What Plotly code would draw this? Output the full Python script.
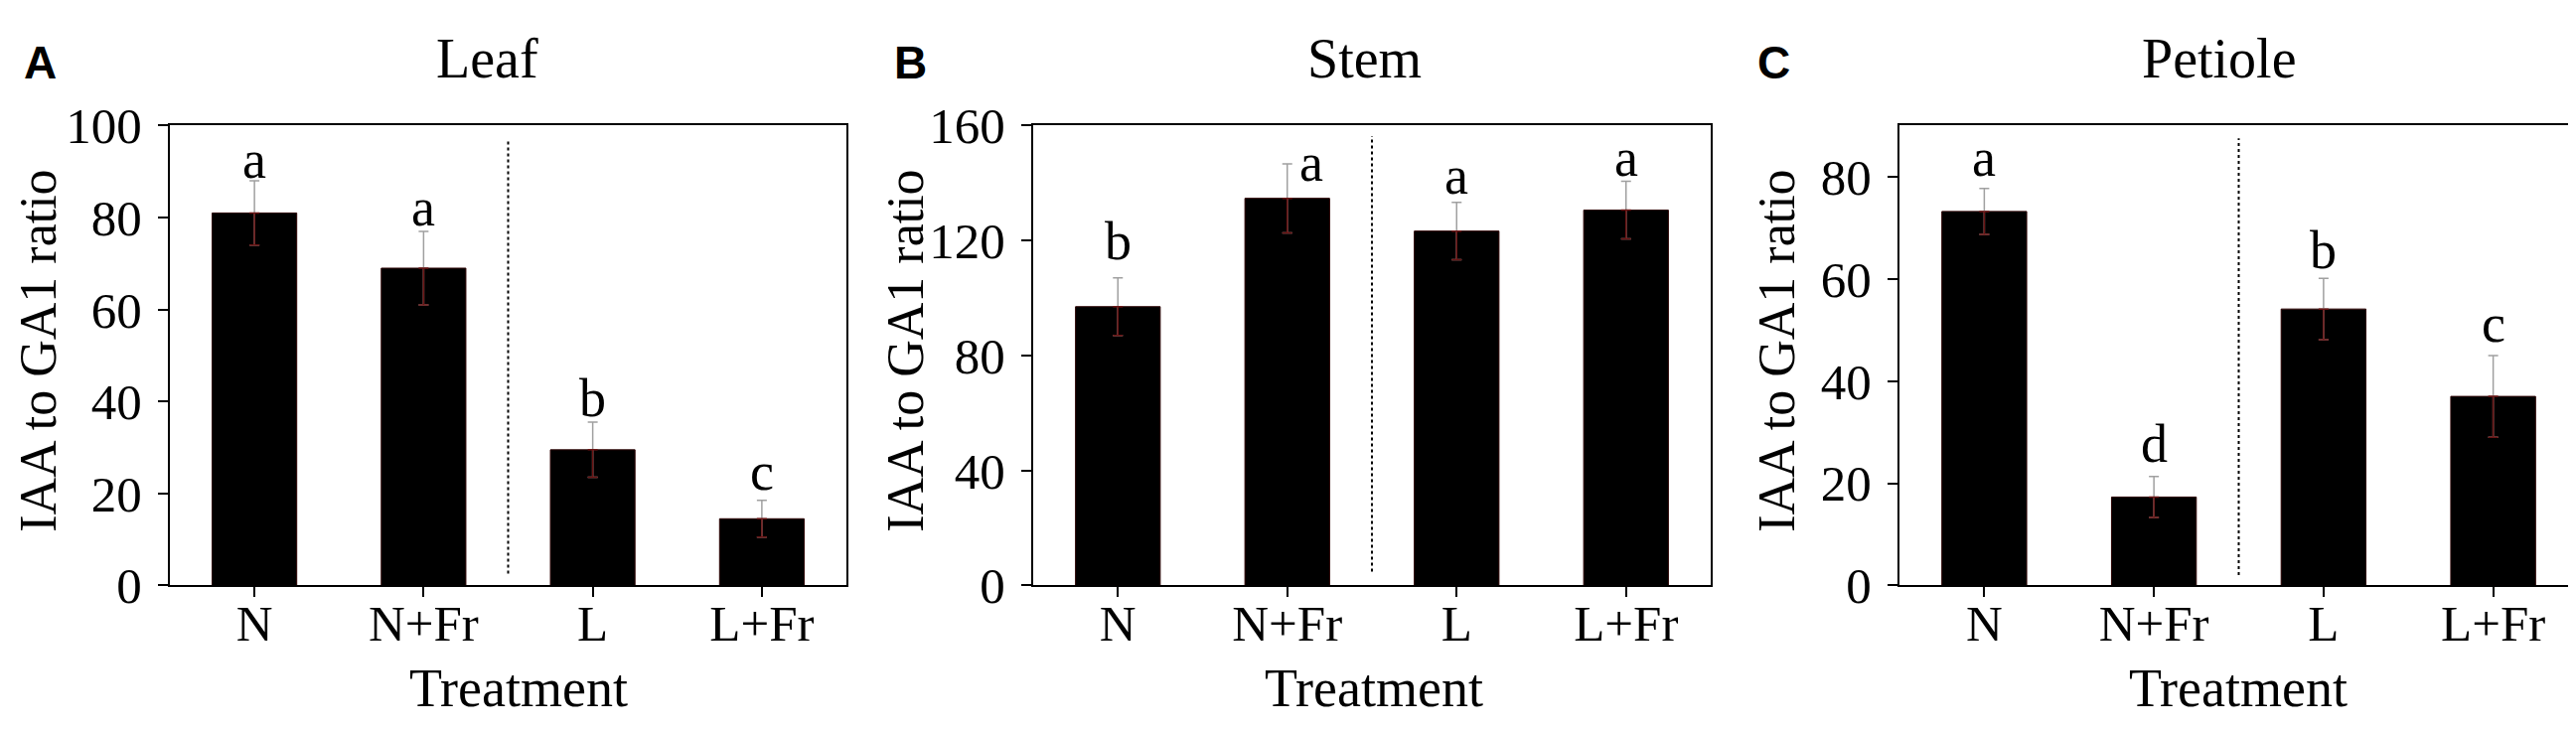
import plotly.graph_objects as go

W, H = 2593, 737

treatments = ["N", "N+Fr", "L", "L+Fr"]

# values
leaf_vals = [81, 69, 29.5, 14.5]
leaf_err = [7, 8, 6, 4]
leaf_letters = ["a", "a", "b", "c"]
leaf_letter_y = [92.6, 82.2, 40.8, 24.8]

stem_vals = [97, 134.7, 123.3, 130.6]
stem_err = [10, 12, 10, 10]
stem_letters = ["b", "a", "a", "a"]
stem_letter_y = [119.8, 147, 142.5, 148.7]

petiole_vals = [73.2, 17.3, 54.1, 37]
petiole_err = [4.5, 4, 6, 8]
petiole_letters = ["a", "d", "b", "c"]
petiole_letter_y = [83.7, 27.7, 65.5, 51.2]

panels = [
    dict(tag="A", title="Leaf", vals=leaf_vals, err=leaf_err, letters=leaf_letters,
         letter_y=leaf_letter_y, yrange=[0, 100], dtick=20, dom=(163, 844),
         tag_x=32, title_x=482, ytitle_x=31, xtitle_x=514, div=(2.6, 97.2)),
    dict(tag="B", title="Stem", vals=stem_vals, err=stem_err, letters=stem_letters,
         letter_y=stem_letter_y, yrange=[0, 160], dtick=40, dom=(1032, 1714),
         tag_x=908, title_x=1366, ytitle_x=904, xtitle_x=1375, div=(4.8, 156.4)),
    dict(tag="C", title="Petiole", vals=petiole_vals, err=petiole_err, letters=petiole_letters,
         letter_y=petiole_letter_y, yrange=[0, 90], dtick=20, dom=(1904, 2587),
         tag_x=1777, title_x=2226, ytitle_x=1781, xtitle_x=2245, div=(2.0, 87.5)),
]

SERIF = "Liberation Serif, Times New Roman, serif"
SANS = "Liberation Sans, Arial, sans-serif"

def px(x):
    return x / W

def py(y):
    return 1 - y / H

fig = go.Figure()
annotations = []
shapes = []
layout = {}

for i, p in enumerate(panels):
    n = "" if i == 0 else str(i + 1)
    xa, ya = "x" + n, "y" + n

    # bar with the gray upper error arm
    fig.add_trace(go.Bar(
        x=treatments, y=p["vals"], xaxis=xa, yaxis=ya, width=0.5,
        marker=dict(color="black", line=dict(color="#2a0000", width=1)),
        error_y=dict(type="data", array=p["err"], arrayminus=p["err"],
                     color="#a0a0a0", thickness=1.5, width=5),
        showlegend=False, hoverinfo="x+y",
    ))
    # dark red lower arm, visible inside the bar
    fig.add_trace(go.Scatter(
        x=treatments, y=p["vals"], xaxis=xa, yaxis=ya, mode="markers",
        marker=dict(opacity=0, size=1),
        error_y=dict(type="data", symmetric=False, array=[0] * 4, arrayminus=p["err"],
                     color="#6b1414", thickness=1.5, width=5),
        showlegend=False, hoverinfo="skip",
    ))

    # significance letters
    for k, (t, lt, ly) in enumerate(zip(treatments, p["letters"], p["letter_y"])):
        annotations.append(dict(
            x=t, y=ly, xref=xa, yref=ya, text=lt, showarrow=False,
            xshift=24 if (p["tag"] == "B" and k == 1) else 0,
            font=dict(family=SERIF, size=54, color="black"),
            xanchor="center", yanchor="middle",
        ))

    x0, x1 = p["dom"]
    layout["xaxis" + n] = dict(
        domain=[px(x0), px(x1)], anchor=ya, type="category", range=[-0.5, 3.5],
        showline=True, linecolor="black", linewidth=2, mirror=True,
        ticks="outside", ticklen=10, tickwidth=2, tickcolor="black",
        showgrid=False, zeroline=False, ticklabelstandoff=-18,
        tickfont=dict(family=SERIF, size=51, color="black"),
    )
    layout["yaxis" + n] = dict(
        domain=[py(600), py(99)], anchor=xa, range=p["yrange"], dtick=p["dtick"],
        showline=True, linecolor="black", linewidth=2, mirror=True,
        ticks="outside", ticklen=10, tickwidth=2, tickcolor="black",
        showgrid=False, zeroline=False, ticklabelstandoff=6,
        tickfont=dict(family=SERIF, size=51, color="black"),
    )

    # dotted divider between the N and L groups
    shapes.append(dict(type="line", xref=xa, yref=ya, x0=1.5, x1=1.5,
                       y0=p["div"][0], y1=p["div"][1],
                       line=dict(color="black", width=2, dash="dot")))

    annotations += [
        dict(x=px(p["tag_x"]), y=py(30), xref="paper", yref="paper", text="<b>%s</b>" % p["tag"],
             showarrow=False, font=dict(family=SANS, size=46, color="black"),
             xanchor="center", yanchor="middle"),
        dict(x=px(p["title_x"]), y=py(26), xref="paper", yref="paper", text=p["title"],
             showarrow=False, font=dict(family=SERIF, size=56, color="black"),
             xanchor="center", yanchor="middle"),
        dict(x=px(p["ytitle_x"]), y=py(345), xref="paper", yref="paper", text="IAA to GA1 ratio",
             showarrow=False, textangle=-90, font=dict(family=SERIF, size=52, color="black"),
             xanchor="center", yanchor="middle"),
        dict(x=px(p["xtitle_x"]), y=py(712), xref="paper", yref="paper", text="Treatment",
             showarrow=False, font=dict(family=SERIF, size=54, color="black"),
             xanchor="center", yanchor="middle"),
    ]

fig.update_layout(
    width=W, height=H,
    margin=dict(l=0, r=0, t=0, b=0),
    paper_bgcolor="white", plot_bgcolor="white",
    annotations=annotations, shapes=shapes,
    bargap=0.5,
    **layout,
)

fig.write_html("out.html")
